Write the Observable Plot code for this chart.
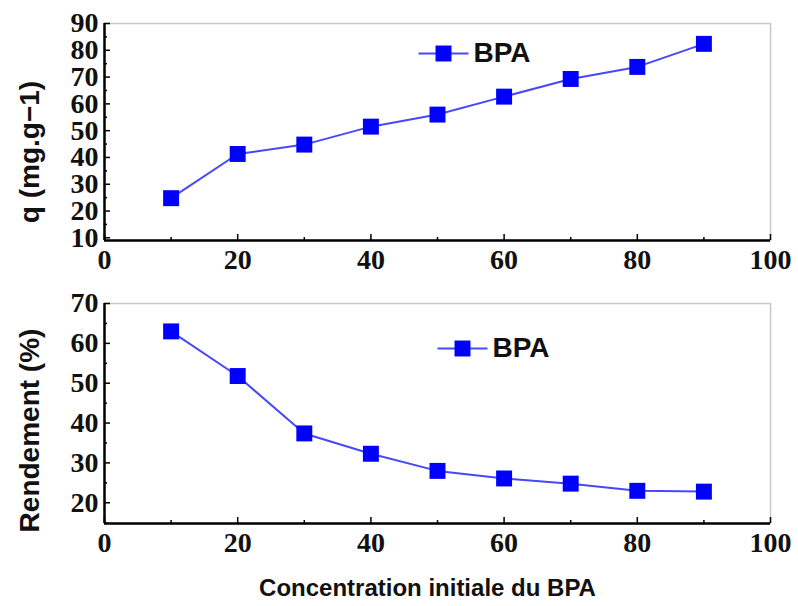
<!DOCTYPE html>
<html>
<head>
<meta charset="utf-8">
<script src="https://cdn.jsdelivr.net/npm/d3@7"></script>
<script src="https://cdn.jsdelivr.net/npm/@observablehq/plot@0.6"></script>
<style>
  html, body { margin: 0; padding: 0; background: #fff; }
  #chart { width: 798px; height: 606px; overflow: hidden; }
  #chart svg { display: block; }
  #chart svg .serif-tick text {
    font-family: "Liberation Serif", "Times New Roman", "DejaVu Serif", serif !important;
    font-weight: bold;
  }
</style>
</head>
<body>
<div id="chart"></div>
<script>
// ---- data ----
const concentration = [10, 20, 30, 40, 50, 60, 70, 80, 90];
const qValues = [24.8, 41.3, 44.8, 51.5, 56.0, 62.7, 69.3, 73.8, 82.4];
const rendementValues = [63.0, 51.8, 37.4, 32.3, 28.0, 26.1, 24.8, 23.0, 22.8];
const seriesName = "BPA";
const xTicksMajor = [0, 20, 40, 60, 80, 100];
const xTicksMinor = [10, 30, 50, 70, 90];
const qTicksMajor = [10, 20, 30, 40, 50, 60, 70, 80, 90];
const qTicksMinor = [15, 25, 35, 45, 55, 65, 75, 85];
const rTicksMajor = [20, 30, 40, 50, 60, 70];
const rTicksMinor = [15, 25, 35, 45, 55, 65];
const qLabel = "q (mg.g\u22121)";
const rLabel = "Rendement (%)";
const xLabel = "Concentration initiale du BPA";

const lineColor = "#4747ff";
const markColor = "#0000ff";
const serif = "Liberation Serif, Times New Roman, DejaVu Serif, serif";
const sans = "Liberation Sans, Arial, sans-serif";

const legendLine = {draw(ctx) { ctx.moveTo(-25, 0); ctx.lineTo(25, 0); }};

function panel({values, yDomain, yMajor, yMinor, yLabel, yLabelShift, height, marginBottom, legendDx, legendDy, showXLabel}) {
  const data = concentration.map((c, i) => ({x: c, y: values[i]}));
  const marks = [
    Plot.frame({stroke: "#c8c8c8", strokeWidth: 1.5}),
    // minor/major inward ticks (no text)
    Plot.axisX(xTicksMinor, {label: null, tickSize: -3, fill: "none", stroke: "#000", strokeWidth: 1.5}),
    Plot.axisX(xTicksMajor, {label: null, tickSize: -6, fill: "none", stroke: "#000", strokeWidth: 1.5}),
    Plot.axisX(xTicksMajor, {label: null, tickSize: 0, tickPadding: 9, fontSize: 28, fontWeight: "bold", fontFamily: serif, fill: "#111", className: "serif-tick"}),
    Plot.axisY(yMinor, {label: null, tickSize: -3, fill: "none", stroke: "#000", strokeWidth: 1.5}),
    Plot.axisY(yMajor, {label: null, tickSize: -6, fill: "none", stroke: "#000", strokeWidth: 1.5}),
    Plot.axisY(yMajor, {label: null, tickSize: 0, tickPadding: 6, fontSize: 28, fontWeight: "bold", fontFamily: serif, fill: "#111", className: "serif-tick"}),
    Plot.ruleY([yDomain[0]], {stroke: "#000", strokeWidth: 2.5}),
    Plot.ruleX([0], {stroke: "#000", strokeWidth: 2.5}),
    Plot.line(data, {x: "x", y: "y", stroke: lineColor, strokeWidth: 2}),
    Plot.dot(data, {x: "x", y: "y", symbol: "square", r: 9, fill: markColor, stroke: "none"}),
    // legend
    Plot.dot([seriesName], {frameAnchor: "top-left", dx: legendDx, dy: legendDy, symbol: legendLine, r: 1, fill: "none", stroke: lineColor, strokeWidth: 2}),
    Plot.dot([seriesName], {frameAnchor: "top-left", dx: legendDx, dy: legendDy, symbol: "square", r: 9, fill: markColor, stroke: "none"}),
    Plot.text([seriesName], {frameAnchor: "top-left", dx: legendDx + 30, dy: legendDy, text: d => d, textAnchor: "start", lineAnchor: "middle", fontSize: 28, fontWeight: "bold", fontFamily: sans, fill: "#111"}),
    // y title
    Plot.text([yLabel], {frameAnchor: "left", dx: -74, dy: yLabelShift, rotate: -90, text: d => d, textAnchor: "middle", lineAnchor: "middle", fontSize: 28, fontWeight: "bold", fontFamily: sans, fill: "#111"})
  ];
  if (showXLabel) {
    marks.push(Plot.text([xLabel], {frameAnchor: "bottom", dx: -10, dy: 65, text: d => d, textAnchor: "middle", lineAnchor: "middle", fontSize: 24, fontWeight: "bold", fontFamily: sans, fill: "#111"}));
  }
  return Plot.plot({
    width: 798,
    height,
    marginTop: 23,
    marginLeft: 104,
    marginRight: 28,
    marginBottom,
    style: {background: "#fff", overflow: "visible", fontFamily: serif},
    x: {domain: [0, 100], axis: null},
    y: {domain: yDomain, axis: null},
    marks
  });
}

const chart = document.getElementById("chart");
chart.append(panel({
  values: qValues, yDomain: [9, 90], yMajor: qTicksMajor, yMinor: qTicksMinor,
  yLabel: qLabel, yLabelShift: 20, height: 280, marginBottom: 40, legendDx: 339, legendDy: 30, showXLabel: false
}));
chart.append(panel({
  values: rendementValues, yDomain: [14.8, 70], yMajor: rTicksMajor, yMinor: rTicksMinor,
  yLabel: rLabel, yLabelShift: 17, height: 326, marginBottom: 83, legendDx: 358, legendDy: 45, showXLabel: true
}));
</script>
</body>
</html>
